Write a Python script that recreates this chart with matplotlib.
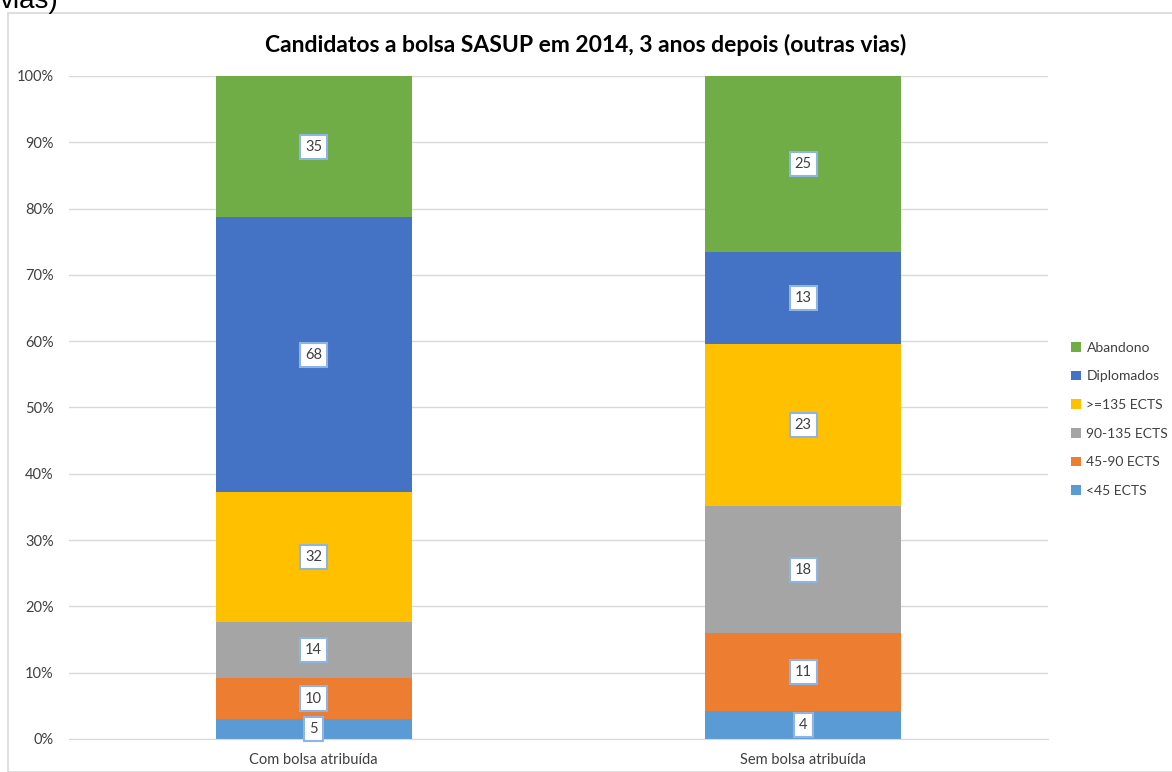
import matplotlib.pyplot as plt
import matplotlib.patches as mpatches
import numpy as np

# Dados
grupos = ["Com bolsa atribuída", "Sem bolsa atribuída"]
series = ["<45 ECTS", "45-90 ECTS", "90-135 ECTS", ">=135 ECTS", "Diplomados", "Abandono"]
com_bolsa = [5, 10, 14, 32, 68, 35]
sem_bolsa = [4, 11, 18, 23, 13, 25]
cores = ["#5B9BD5", "#ED7D31", "#A5A5A5", "#FFC000", "#4472C4", "#70AD47"]

plt.rcParams['font.family'] = ['Lato', 'DejaVu Sans']

valores = np.array([com_bolsa, sem_bolsa], dtype=float).T  # series x grupos
perc = valores / valores.sum(axis=0) * 100

fig = plt.figure(figsize=(11.72, 7.72), dpi=100)

# moldura do gráfico e resto do título de cima (cortado no original)
fig.patches.append(mpatches.Rectangle((8/1172, 0), 1.2, 1 - 13/772, transform=fig.transFigure,
                                      fill=False, edgecolor='#D9D9D9', lw=1.2))
fig.text(0.0, 1 - 8/772, "vias)", family='Liberation Sans', fontsize=20, va='baseline', ha='left')

ax = fig.add_axes([69/1172, 1 - 739/772, (1048 - 69)/1172, (739 - 76)/772])

x = np.arange(len(grupos))
base = np.zeros(len(grupos))
handles = []
for i, nome in enumerate(series):
    b = ax.bar(x, perc[i], 0.4, bottom=base, color=cores[i], label=nome, zorder=2)
    handles.append(b)
    for j in range(len(grupos)):
        ax.text(x[j], base[j] + perc[i][j] / 2, f"{int(valores[i][j])}",
                ha='center', va='center', fontsize=10.5, color='#404040', zorder=3,
                bbox=dict(boxstyle='square,pad=0.35', facecolor='white', edgecolor='#8DB4E2', lw=1.5))
    base += perc[i]

ax.set_xlim(-0.5, 1.5)
ax.set_ylim(0, 100)
ax.set_yticks(np.arange(0, 101, 10))
ax.set_yticklabels([f"{v}%" for v in range(0, 101, 10)], fontsize=10.5, color='#404040')
ax.set_xticks(x)
ax.set_xticklabels(grupos, fontsize=10.5, color='#404040')
ax.tick_params(axis='both', length=0)
ax.tick_params(axis='y', pad=11)
ax.tick_params(axis='x', pad=10)
ax.grid(axis='y', color='#D9D9D9', lw=1, zorder=0)
for s in ['top', 'right', 'left']:
    ax.spines[s].set_visible(False)
ax.spines['bottom'].set_color('#D9D9D9')

fig.text(0.5, 1 - 45/772, "Candidatos a bolsa SASUP em 2014, 3 anos depois (outras vias)",
         ha='center', va='center', fontsize=16.5, fontweight='bold', color='#000000')

leg = ax.legend(handles[::-1], series[::-1], loc='center left', bbox_to_anchor=(1.018, 0.482),
                frameon=False, fontsize=10, handlelength=0.7, handleheight=0.7,
                handletextpad=0.4, labelspacing=1.2, borderaxespad=0)
for t in leg.get_texts():
    t.set_color('#404040')

plt.savefig('out.png', dpi=100)
